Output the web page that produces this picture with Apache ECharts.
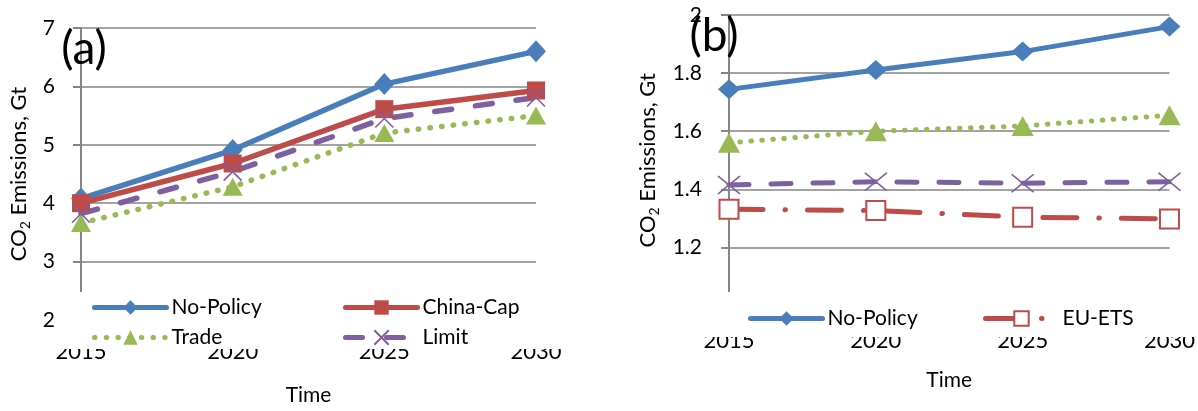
<!DOCTYPE html>
<html>
<head>
<meta charset="utf-8">
<script src="https://cdn.jsdelivr.net/npm/echarts@6/dist/echarts.min.js"></script>
<style>
html,body{margin:0;padding:0;background:#fff;}
#c{width:1198px;height:411px;}
</style>
</head>
<body>
<div id="c"></div>
<script>
// ---- data ----
const years = ['2015', '2020', '2025', '2030'];
// panel (a)
const aNoPolicy = [4.08, 4.91, 6.04, 6.60];
const aChinaCap = [4.00, 4.68, 5.61, 5.93];
const aTrade    = [3.66, 4.28, 5.20, 5.50];
const aLimit    = [3.82, 4.54, 5.45, 5.81];
// panel (b)
const bNoPolicy = [1.744, 1.811, 1.874, 1.960];
const bEUETS    = [1.331, 1.327, 1.304, 1.298];
const bTrade    = [1.560, 1.600, 1.618, 1.655];
const bLimit    = [1.415, 1.426, 1.421, 1.426];
const aTicks = {min: 2, max: 7, interval: 1};
const bTicks = {min: 1, max: 2, interval: 0.2};

// ---- style ----
const FONT = 'Lato, "Open Sans", sans-serif';
const BLUE = '#4a7ebb', RED = '#be4b48', GREEN = '#98b954', PURPLE = '#7d60a0';
const AXIS = '#868686', GRID = '#a3a3a3';
const CROSS = 'path://M0,0L10,10M10,0L0,10';

function yAxis(idx, t, margin, nameGap) {
  return {
    type: 'value', gridIndex: idx, min: t.min, max: t.max, interval: t.interval,
    name: 'CO{s|2} Emissions, Gt', nameLocation: 'middle', nameGap: nameGap,
    nameTextStyle: {fontFamily: FONT, fontSize: 22, color: '#000', lineHeight: 26,
      rich: {s: {fontFamily: FONT, fontSize: 14, lineHeight: 26, verticalAlign: 'bottom', color: '#000'}}},
    axisLine: {show: true, lineStyle: {color: AXIS, width: 2}},
    axisTick: {show: true, length: 8, lineStyle: {color: AXIS, width: 2}},
    axisLabel: {margin: margin, fontFamily: FONT, fontSize: 21, color: '#000'},
    splitLine: {show: true, lineStyle: {color: GRID, width: 2}}
  };
}
function xAxis(idx, margin, nameGap) {
  return {
    type: 'category', gridIndex: idx, data: years, boundaryGap: false,
    name: 'Time', nameLocation: 'middle', nameGap: nameGap,
    nameTextStyle: {fontFamily: FONT, fontSize: 21, color: '#000'},
    axisLine: {show: true, lineStyle: {color: AXIS, width: 2}},
    axisTick: {show: false},
    axisLabel: {margin: margin, fontFamily: FONT, fontSize: 22, color: '#000'},
    splitLine: {show: false}
  };
}
function line(name, data, idx, color, width, type, symbol, size, extra) {
  const s = {
    name: name, type: 'line', data: data, xAxisIndex: idx, yAxisIndex: idx,
    symbol: symbol, symbolSize: size, showSymbol: true,
    lineStyle: {color: color, width: width, type: type, cap: 'round'},
    itemStyle: {color: color},
    emphasis: {disabled: true}
  };
  if (extra) Object.assign(s.itemStyle, extra);
  return s;
}
const legendText = {fontFamily: FONT, fontSize: 21, color: '#000'};
function legend(names, left, top) {
  return {data: names, orient: 'vertical', left: left, top: top, padding: 0,
    itemWidth: 72, itemHeight: 18, itemGap: 9, textStyle: legendText, selectedMode: false,
    lineStyle: {width: 5}};
}

const option = {
  animation: false,
  backgroundColor: '#fff',
  grid: [
    {left: 81, right: 662, top: 28, bottom: 90.5, containLabel: false},
    {left: 729, right: 28, top: 15, bottom: 105.5, containLabel: false}
  ],
  xAxis: [xAxis(0, 21, 65), xAxis(1, 24, 64)],
  yAxis: [yAxis(0, aTicks, 26, 49), yAxis(1, bTicks, 27, 68)],
  legend: [
    legend(['No-Policy', 'Trade'], 92, 297),
    legend(['China-Cap', 'Limit'], 343, 297),
    legend(['No-Policy'], 748, 308),
    legend(['EU-ETS'], 983, 308)
  ],
  series: [
    line('No-Policy', aNoPolicy, 0, BLUE, 5.5, 'solid', 'diamond', [20, 22]),
    line('China-Cap', aChinaCap, 0, RED, 5.5, 'solid', 'rect', 18),
    line('Trade', aTrade, 0, GREEN, 5.5, [0.5, 11.2], 'triangle', [20, 18]),
    line('Limit', aLimit, 0, PURPLE, 5.5, [17, 24], CROSS, 18, {borderColor: PURPLE, borderWidth: 1.6}),
    line('No-Policy', bNoPolicy, 1, BLUE, 5, 'solid', 'diamond', [22, 20]),
    line('EU-ETS', bEUETS, 1, RED, 5, [34, 22, 0.5, 22], 'emptyRect', 19, {borderColor: RED, borderWidth: 2}),
    line('Trade', bTrade, 1, GREEN, 5, [0.5, 10.5], 'triangle', [22, 20]),
    line('Limit', bLimit, 1, PURPLE, 5, [20, 22], CROSS, [22, 18], {borderColor: PURPLE, borderWidth: 1.6})
  ],
  graphic: [
    {type: 'rect', z: 3, silent: true, shape: {x: 57, y: 292, width: 530, height: 57}, style: {fill: '#fff'}},
    {type: 'rect', z: 3, silent: true, shape: {x: 660, y: 292, width: 538, height: 45}, style: {fill: '#fff'}},
    {type: 'text', z: 5, x: 84, y: 49, style: {text: '(a)', fontFamily: FONT, fontSize: 46, fill: '#000', align: 'center', verticalAlign: 'middle'}},
    {type: 'text', z: 5, x: 714, y: 36, style: {text: '(b)', fontFamily: FONT, fontSize: 46, fill: '#000', align: 'center', verticalAlign: 'middle'}}
  ]
};
const chart = echarts.init(document.getElementById('c'), null, {renderer: 'canvas'});
chart.setOption(option);
</script>
</body>
</html>
